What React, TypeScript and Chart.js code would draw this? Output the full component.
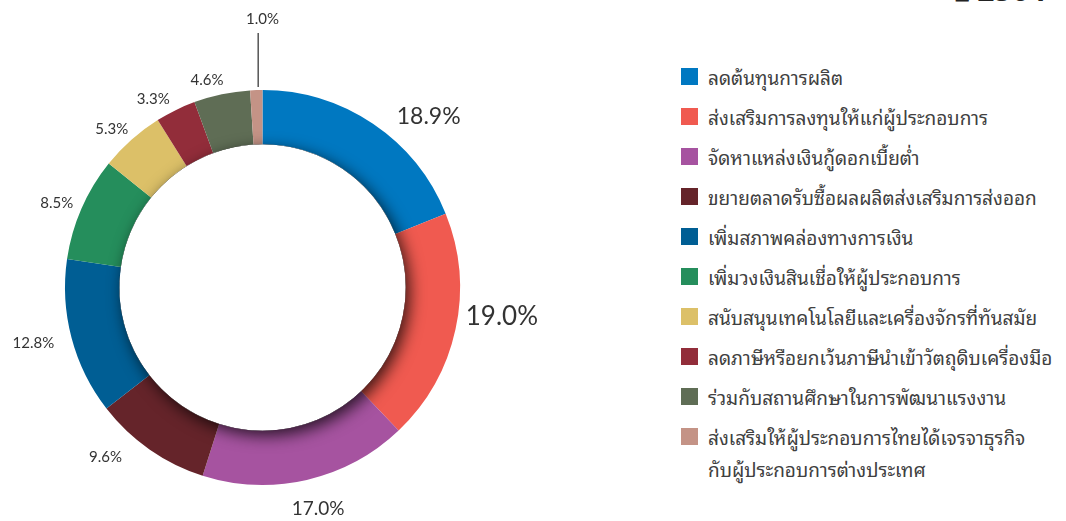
import React, { useEffect, useRef } from "react";
import { Chart, registerables } from "chart.js";

Chart.register(...registerables);

// ---------- data ----------
const categories = [
  "ลดต้นทุนการผลิต",
  "ส่งเสริมการลงทุนให้แก่ผู้ประกอบการ",
  "จัดหาแหล่งเงินกู้ดอกเบี้ยต่ำ",
  "ขยายตลาดรับซื้อผลผลิตส่งเสริมการส่งออก",
  "เพิ่มสภาพคล่องทางการเงิน",
  "เพิ่มวงเงินสินเชื่อให้ผู้ประกอบการ",
  "สนับสนุนเทคโนโลยีและเครื่องจักรที่ทันสมัย",
  "ลดภาษีหรือยกเว้นภาษีนำเข้าวัตถุดิบเครื่องมือ",
  "ร่วมกับสถานศึกษาในการพัฒนาแรงงาน",
  "ส่งเสริมให้ผู้ประกอบการไทยได้เจรจาธุรกิจ\nกับผู้ประกอบการต่างประเทศ",
];
const values = [18.9, 19.0, 17.0, 9.6, 12.8, 8.5, 5.3, 3.3, 4.6, 1.0];
const valueLabels = ["18.9%", "19.0%", "17.0%", "9.6%", "12.8%", "8.5%", "5.3%", "3.3%", "4.6%", "1.0%"];
const colors = [
  "#0078C1",
  "#F05A50",
  "#A653A0",
  "#65242A",
  "#005E94",
  "#258E5C",
  "#DCC068",
  "#922D3A",
  "#5F6D55",
  "#C49386",
];
const titleText = "ปี 2564";

// ---------- style ----------
const labelFontSizes = [23, 26, 19, 15, 15, 15, 15, 15, 15, 15];
const labelNudges: [number, number][] = [
  [40, 16], [19, -19], [5, 2], [-28, -15], [-11, -2],
  [1, 6], [-1, 10], [-10, 14], [-9, 13], [7, -43],
];
const leaderIndex = 9;
const thaiFont =
  '"Noto Sans Thai Looped", "Tlwg Typo", Loma, Garuda, Norasi, "Noto Serif Thai", "Noto Sans Thai", "Noto Sans", sans-serif';

const labelPlugin = {
  id: "outLabels",
  afterDatasetsDraw(chart: any) {
    const ctx = chart.ctx as CanvasRenderingContext2D;
    const meta = chart.getDatasetMeta(0);
    const first = meta.data[0];
    if (!first) return;
    const { x: cx, y: cy, innerRadius, outerRadius } = first.getProps(
      ["x", "y", "innerRadius", "outerRadius"], true
    );
    // inner shadow
    ctx.save();
    ctx.beginPath();
    ctx.arc(cx, cy, outerRadius, 0, Math.PI * 2);
    ctx.arc(cx, cy, innerRadius, 0, Math.PI * 2, true);
    ctx.clip();
    ctx.shadowColor = "rgba(0,0,0,0.75)";
    ctx.shadowBlur = 16;
    ctx.shadowOffsetX = 4;
    ctx.shadowOffsetY = 5;
    ctx.beginPath();
    ctx.arc(cx, cy, innerRadius, 0, Math.PI * 2);
    ctx.arc(cx, cy, innerRadius - 60, 0, Math.PI * 2, true);
    ctx.fillStyle = "#000";
    ctx.fill();
    ctx.restore();

    // labels
    ctx.save();
    ctx.fillStyle = "#333333";
    ctx.textAlign = "center";
    ctx.textBaseline = "middle";
    meta.data.forEach((arc: any, i: number) => {
      const p = arc.getProps(["startAngle", "endAngle"], true);
      const mid = (p.startAngle + p.endAngle) / 2;
      const r = outerRadius + 28;
      const lx = cx + Math.cos(mid) * r + labelNudges[i][0];
      const ly = cy + Math.sin(mid) * r + labelNudges[i][1];
      ctx.font = `${labelFontSizes[i]}px Lato, "Noto Sans", sans-serif`;
      ctx.fillText(valueLabels[i], lx, ly);
      if (i === leaderIndex) {
        const sx = cx + Math.cos(mid) * (outerRadius + 3);
        const sy = cy + Math.sin(mid) * (outerRadius + 3);
        ctx.strokeStyle = "#555555";
        ctx.lineWidth = 1.5;
        ctx.beginPath();
        ctx.moveTo(sx + 2, sy);
        ctx.lineTo(sx + 2, ly + 14);
        ctx.stroke();
      }
    });
    ctx.restore();
  },
};

export default function App() {
  const ref = useRef<HTMLCanvasElement | null>(null);

  useEffect(() => {
    if (!ref.current) return;
    const chart = new Chart(ref.current, {
      type: "doughnut",
      data: {
        labels: categories,
        datasets: [
          {
            data: values,
            backgroundColor: colors,
            borderWidth: 0,
            hoverOffset: 0,
            offset: 0,
          },
        ],
      },
      options: {
        responsive: false,
        animation: false,
        cutout: "72.5%",
        rotation: 0,
        layout: { padding: { left: 65, top: 90, right: 100, bottom: 36 } },
        plugins: {
          legend: { display: false },
          tooltip: { enabled: false },
        },
      },
      plugins: [labelPlugin],
    });
    return () => chart.destroy();
  }, []);

  return (
    <div
      style={{
        position: "fixed",
        left: 0,
        top: 0,
        width: 1066,
        height: 521,
        background: "#ffffff",
        overflow: "hidden",
      }}
    >
      <canvas
        ref={ref}
        width={560}
        height={521}
        style={{ position: "absolute", left: 0, top: 0, width: 560, height: 521 }}
      />
      <div
        style={{
          position: "absolute",
          right: 20,
          top: -27,
          fontFamily: '"Noto Sans", sans-serif',
          fontWeight: 700,
          fontSize: 30,
          lineHeight: "34px",
          color: "#222",
        }}
      >
        {titleText}
      </div>
      <div
        style={{
          position: "absolute",
          left: 681,
          top: 61,
          display: "flex",
          flexDirection: "column",
          gap: 8,
          fontFamily: thaiFont,
          fontSize: 19,
          color: "#404040",
        }}
      >
        {categories.map((c, i) => (
          <div key={i} style={{ display: "flex", alignItems: "flex-start" }}>
            <div
              style={{
                width: 17,
                height: 17,
                marginTop: 7,
                background: colors[i],
                flex: "none",
              }}
            />
            <div style={{ marginLeft: 10, lineHeight: "32px", whiteSpace: "pre" }}>{c}</div>
          </div>
        ))}
      </div>
    </div>
  );
}
